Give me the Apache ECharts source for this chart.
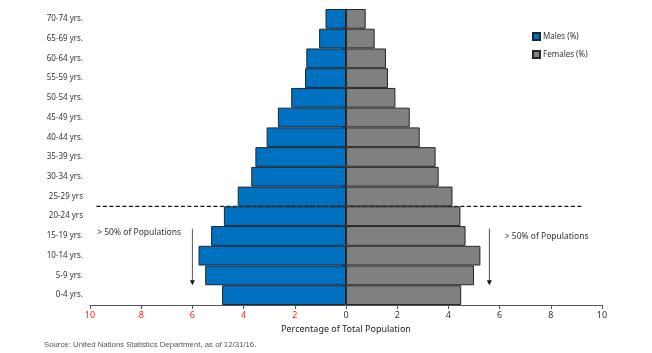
<!DOCTYPE html>
<html><head><meta charset="utf-8">
<script src="https://cdn.jsdelivr.net/npm/echarts@6/dist/echarts.min.js"></script>
<style>html,body{margin:0;padding:0;background:#fff}#c{width:652px;height:353px}</style>
</head><body><div id="c"></div>
<script>
const categories = ['0-4 yrs.','5-9 yrs.','10-14 yrs.','15-19 yrs.','20-24 yrs','25-29 yrs','30-34 yrs.','35-39 yrs.','40-44 yrs.','45-49 yrs.','50-54 yrs.','55-59 yrs.','60-64 yrs.','65-69 yrs.','70-74 yrs.'];
const males   = [4.84, 5.50, 5.76, 5.27, 4.77, 4.23, 3.70, 3.54, 3.10, 2.66, 2.14, 1.60, 1.55, 1.05, 0.80];
const females = [4.50, 5.00, 5.25, 4.67, 4.47, 4.16, 3.62, 3.50, 2.88, 2.49, 1.93, 1.64, 1.56, 1.12, 0.77];
const FONT = 'Noto Sans';

const chart = echarts.init(document.getElementById('c'), null, {renderer:'canvas'});
chart.setOption({
  animation:false,
  textStyle:{fontFamily:FONT},
  grid:{left:90,right:50,top:9,bottom:48,containLabel:false},
  legend:{
    orient:'vertical', left:527, top:27, itemWidth:7, itemHeight:7, itemGap:9,
    icon:'rect',
    textStyle:{fontSize:8, color:'#333', fontFamily:FONT, padding:[0,0,0,-2]},
    data:['Males (%)','Females (%)']
  },
  xAxis:{
    type:'value', min:-10, max:10, interval:2,
    name:'Percentage of Total Population', nameLocation:'middle', nameGap:20,
    nameTextStyle:{fontSize:9, color:'#222', fontFamily:FONT},
    axisLine:{show:true, lineStyle:{color:'#555', width:1}},
    axisTick:{show:true, length:4, inside:false, lineStyle:{color:'#555'}},
    splitLine:{show:false},
    axisLabel:{
      fontSize:9, margin:6, fontFamily:FONT,
      formatter:v=>String(Math.abs(v)),
      color:v=> (Number(v)<0 ? '#ff2020' : '#333')
    }
  },
  yAxis:{
    type:'category', data:categories,
    axisLine:{show:true, lineStyle:{color:'#555', width:1}},
    axisTick:{show:true, length:4, lineStyle:{color:'#555'}},
    axisLabel:{fontSize:8, color:'#333', margin:7, fontFamily:FONT},
    splitLine:{show:false}
  },
  series:[
    {name:'Males (%)', type:'bar', stack:'pop', barCategoryGap:0,
     data:males.map(v=>-v),
     itemStyle:{color:'#0070C0', borderColor:'#1a2633', borderWidth:1}},
    {name:'Females (%)', type:'bar', stack:'pop', barCategoryGap:0,
     data:females,
     itemStyle:{color:'#808080', borderColor:'#262626', borderWidth:1}}
  ]
});

function px(x, yIdx){ return chart.convertToPixel({xAxisIndex:0, yAxisIndex:0}, [x, yIdx]); }
const c4 = px(0,4), c5 = px(0,5), c3 = px(0,3), c0 = px(0,0), c1 = px(0,1);
const yDash = (c4[1]+c5[1])/2;
const band = c3[1]-c4[1];
const xl = px(-9.75,0)[0], xr = px(9.2,0)[0];
const yArrowTop = c3[1] - band*0.37;
const yArrowEnd = (c0[1]+c1[1])/2;
const xa1 = px(-6,0)[0], xa2 = px(5.6,0)[0];
function arrow(x){
  return [
    {type:'line', shape:{x1:x,y1:yArrowTop,x2:x,y2:yArrowEnd-5}, style:{stroke:'#555',lineWidth:1}},
    {type:'polygon', shape:{points:[[x-2.5,yArrowEnd-5],[x+2.5,yArrowEnd-5],[x,yArrowEnd]]}, style:{fill:'#111'}}
  ];
}
chart.setOption({
  graphic:[
    {type:'line', shape:{x1:xl,y1:yDash,x2:xr,y2:yDash}, style:{stroke:'#111',lineWidth:1.2,lineDash:[4,2.5]}},
    ...arrow(xa1), ...arrow(xa2),
    {type:'text', x:px(-9.72,0)[0], y:c3[1]-band*0.15, style:{text:'> 50% of Populations', fontSize:8.5, fill:'#333', fontFamily:FONT, verticalAlign:'middle'}},
    {type:'text', x:px(6.2,0)[0], y:c3[1]+band*0.02, style:{text:'> 50% of Populations', fontSize:8.5, fill:'#333', fontFamily:FONT, verticalAlign:'middle'}},
    {type:'text', left:44, top:341, style:{text:'Source: United Nations Statistics Department, as of 12/31/16.', fontSize:7.8, fill:'#555', fontFamily:'Liberation Sans'}}
  ]
});
</script></body></html>
